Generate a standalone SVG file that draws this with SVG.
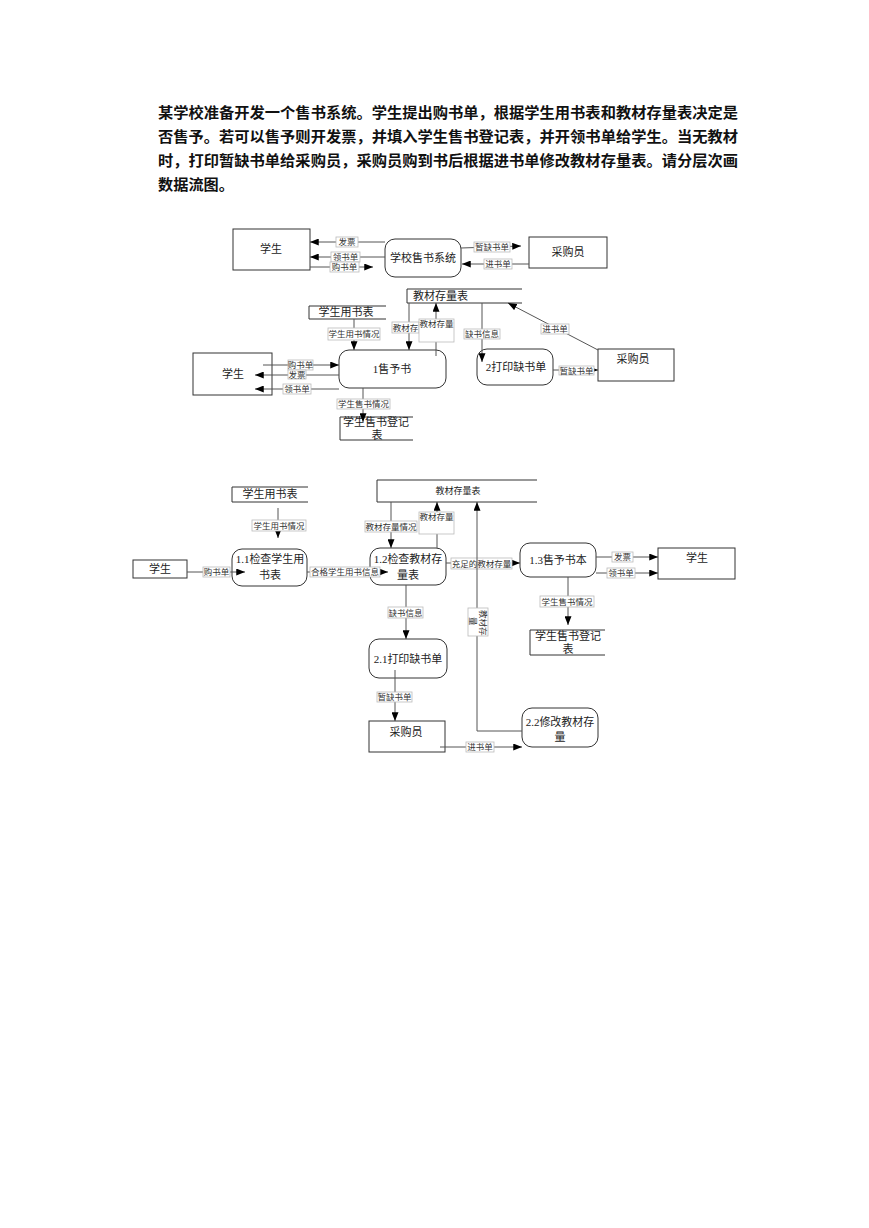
<svg xmlns="http://www.w3.org/2000/svg" width="869" height="1228" viewBox="0 0 869 1228">
<style>
.title{font-family:"Noto Sans CJK SC",sans-serif;font-weight:bold;font-size:14.5px;fill:#111}
.box{fill:#fff;stroke:#333;stroke-width:1}
.store{fill:none;stroke:#333;stroke-width:1}
.nt{font-family:"Liberation Serif","Noto Sans CJK SC",serif;font-size:11px;fill:#222;text-anchor:middle}
.st{font-family:"Liberation Serif","Noto Sans CJK SC",serif;font-size:9px;fill:#222;text-anchor:middle}
.ln{fill:none;stroke:#555;stroke-width:1}
.lb{fill:#fff;stroke:#bbb;stroke-width:0.8}
.lt{font-family:"Liberation Serif","Noto Sans CJK SC",serif;font-size:8.5px;fill:#333;text-anchor:middle}
</style>
<defs>
<marker id="ah" markerUnits="userSpaceOnUse" viewBox="0 0 10 8" refX="10" refY="4" markerWidth="9" markerHeight="7" orient="auto">
<path d="M0,0 L10,4 L0,8 z" fill="#000"/>
</marker>
</defs>
<rect width="869" height="1228" fill="#fff"/>

<g id="question">
<text class="title" x="158" y="118" textLength="580" lengthAdjust="spacingAndGlyphs">某学校准备开发一个售书系统。学生提出购书单，根据学生用书表和教材存量表决定是</text>
<text class="title" x="158" y="142" textLength="580" lengthAdjust="spacingAndGlyphs">否售予。若可以售予则开发票，并填入学生售书登记表，并开领书单给学生。当无教材</text>
<text class="title" x="158" y="166" textLength="580" lengthAdjust="spacingAndGlyphs">时，打印暂缺书单给采购员，采购员购到书后根据进书单修改教材存量表。请分层次画</text>
<text class="title" x="158" y="190" textLength="76" lengthAdjust="spacingAndGlyphs">数据流图。</text>
</g>

<!-- Diagram 1 -->
<g id="d1-student"><rect class="box" x="233" y="229" width="77" height="41"/><text class="nt" x="271" y="253">学生</text></g>
<g id="d1-system"><rect class="box" x="385" y="239" width="76" height="38" rx="10"/><text class="nt" x="423" y="262">学校售书系统</text></g>
<g id="d1-buyer"><rect class="box" x="529" y="237" width="78" height="31"/><text class="nt" x="568" y="256">采购员</text></g>

<!-- Diagram 2 -->
<g id="d2-usebook"><path class="store" d="M386,306 H309 V319 H386"/><text class="nt" x="346" y="316">学生用书表</text></g>
<g id="d2-p1"><rect class="box" x="339" y="350" width="107" height="38" rx="10"/><text class="nt" x="392" y="373">1售予书</text></g>
<g id="d2-student"><rect class="box" x="193" y="353" width="79" height="42"/><text class="nt" x="233" y="378">学生</text></g>
<g id="d2-salereg"><path class="store" d="M413,417 H340 V440 H413"/><text class="nt" x="376" y="426">学生售书登记</text><text class="nt" x="377" y="439">表</text></g>
<g id="d2-stock"><path class="store" d="M522,289 H407 V303 H522"/><text class="nt" x="413" y="300" style="text-anchor:start">教材存量表</text></g>
<g id="d2-p2"><rect class="box" x="477" y="349" width="76" height="36" rx="10"/><text class="nt" x="516" y="371">2打印缺书单</text></g>
<g id="d2-buyer"><rect class="box" x="598" y="349" width="76" height="32"/><text class="nt" x="633" y="363">采购员</text></g>

<!-- Diagram 3 -->
<g id="d3-usebook"><path class="store" d="M308,487 H232 V502 H308"/><text class="nt" x="270" y="498">学生用书表</text></g>
<g id="d3-p11"><rect class="box" x="232" y="549" width="75" height="37" rx="10"/><text class="nt" x="270" y="563">1.1检查学生用</text><text class="nt" x="270" y="579">书表</text></g>
<g id="d3-student1"><rect class="box" x="133" y="560" width="54" height="18"/><text class="nt" x="160" y="573">学生</text></g>
<g id="d3-p12"><rect class="box" x="370" y="548" width="76" height="37" rx="10"/><text class="nt" x="408" y="563">1.2检查教材存</text><text class="nt" x="408" y="579">量表</text></g>
<g id="d3-stock"><path class="store" d="M537,480 H377 V502 H537"/><text class="st" x="458" y="494">教材存量表</text></g>
<g id="d3-p13"><rect class="box" x="520" y="543" width="76" height="34" rx="10"/><text class="nt" x="558" y="564">1.3售予书本</text></g>
<g id="d3-student2"><rect class="box" x="658" y="548" width="77" height="31"/><text class="nt" x="697" y="562">学生</text></g>
<g id="d3-salereg"><path class="store" d="M605,630 H530 V655 H605"/><text class="nt" x="568" y="640">学生售书登记</text><text class="nt" x="568" y="653">表</text></g>
<g id="d3-p21"><rect class="box" x="369" y="639" width="78" height="39" rx="10"/><text class="nt" x="408" y="663">2.1打印缺书单</text></g>
<g id="d3-buyer"><rect class="box" x="369" y="721" width="76" height="31"/><text class="nt" x="406" y="736">采购员</text></g>
<g id="d3-p22"><rect class="box" x="522" y="708" width="76" height="39" rx="10"/><text class="nt" x="560" y="726">2.2修改教材存</text><text class="nt" x="560" y="741">量</text></g>

<g id="connectors">
<!-- D1 -->
<line class="ln" x1="385" y1="242" x2="310" y2="242" marker-end="url(#ah)"/>
<rect class="lb" x="336" y="237" width="22" height="10"/><text class="lt" x="347" y="245">发票</text>
<line class="ln" x1="385" y1="257" x2="310" y2="257" marker-end="url(#ah)"/>
<rect class="lb" x="331" y="252" width="29" height="10"/><text class="lt" x="345.5" y="260">领书单</text>
<line class="ln" x1="310" y1="267" x2="373" y2="267" marker-end="url(#ah)"/>
<rect class="lb" x="330" y="262" width="29" height="10"/><text class="lt" x="344.5" y="270">购书单</text>
<line class="ln" x1="461" y1="248" x2="521" y2="246" marker-end="url(#ah)"/>
<rect class="lb" x="474" y="242" width="36" height="10"/><text class="lt" x="492" y="250">暂缺书单</text>
<line class="ln" x1="529" y1="264" x2="462" y2="264" marker-end="url(#ah)"/>
<rect class="lb" x="484" y="259" width="28" height="10"/><text class="lt" x="498" y="267">进书单</text>

<!-- D2 -->
<line class="ln" x1="354" y1="319" x2="354" y2="350" marker-end="url(#ah)"/>
<rect class="lb" x="328" y="328" width="52" height="12"/><text class="lt" x="354" y="337">学生用书情况</text>
<line class="ln" x1="263" y1="365" x2="339" y2="365" marker-end="url(#ah)"/>
<rect class="lb" x="288" y="360" width="25" height="10"/><text class="lt" x="300.5" y="368">购书单</text>
<line class="ln" x1="339" y1="375" x2="255" y2="375" marker-end="url(#ah)"/>
<rect class="lb" x="288" y="370" width="18" height="9"/><text class="lt" x="297" y="378">发票</text>
<line class="ln" x1="339" y1="389" x2="255" y2="389" marker-end="url(#ah)"/>
<rect class="lb" x="283" y="384" width="28" height="10"/><text class="lt" x="297" y="392">领书单</text>
<line class="ln" x1="363" y1="388" x2="363" y2="422" marker-end="url(#ah)"/>
<rect class="lb" x="337" y="399" width="53" height="10"/><text class="lt" x="363.5" y="407">学生售书情况</text>
<line class="ln" x1="409" y1="303" x2="409" y2="350" marker-end="url(#ah)"/>
<rect class="lb" x="392" y="322" width="27" height="11"/><text class="lt" x="405.5" y="331">教材存</text>
<line class="ln" x1="436" y1="356" x2="436" y2="303" marker-end="url(#ah)"/>
<rect class="lb" x="419" y="319" width="35" height="23"/><text class="lt" x="436.5" y="327">教材存量</text>
<line class="ln" x1="482" y1="303" x2="482" y2="362" marker-end="url(#ah)"/>
<rect class="lb" x="464" y="329" width="36" height="10"/><text class="lt" x="482" y="337">缺书信息</text>
<line class="ln" x1="553" y1="370" x2="598" y2="370" marker-end="url(#ah)"/>
<rect class="lb" x="559" y="366" width="35" height="9"/><text class="lt" x="576.5" y="374">暂缺书单</text>
<line class="ln" x1="598" y1="350" x2="508" y2="303" marker-end="url(#ah)"/>
<rect class="lb" x="541" y="324" width="28" height="10"/><text class="lt" x="555" y="332">进书单</text>

<!-- D3 -->
<line class="ln" x1="278" y1="508" x2="278" y2="538" marker-end="url(#ah)"/>
<rect class="lb" x="252" y="520" width="54" height="11"/><text class="lt" x="279" y="529">学生用书情况</text>
<line class="ln" x1="187" y1="572" x2="245" y2="572" marker-end="url(#ah)"/>
<rect class="lb" x="203" y="567" width="27" height="10"/><text class="lt" x="216.5" y="575">购书单</text>
<line class="ln" x1="307" y1="572" x2="388" y2="572" marker-end="url(#ah)"/>
<rect class="lb" x="310" y="567" width="70" height="10"/><text class="lt" x="345" y="575">合格学生用书信息</text>
<line class="ln" x1="391" y1="502" x2="391" y2="548" marker-end="url(#ah)"/>
<rect class="lb" x="365" y="521" width="52" height="11"/><text class="lt" x="391" y="530">教材存量情况</text>
<line class="ln" x1="437" y1="548" x2="437" y2="502" marker-end="url(#ah)"/>
<rect class="lb" x="419" y="512" width="35" height="22"/><text class="lt" x="436.5" y="520">教材存量</text>
<line class="ln" x1="446" y1="563" x2="520" y2="563" marker-end="url(#ah)"/>
<rect class="lb" x="451" y="558" width="61" height="11"/><text class="lt" x="481.5" y="567">充足的教材存量</text>
<line class="ln" x1="596" y1="557" x2="658" y2="557" marker-end="url(#ah)"/>
<rect class="lb" x="612" y="552" width="21" height="10"/><text class="lt" x="622.5" y="560">发票</text>
<line class="ln" x1="596" y1="573" x2="658" y2="573" marker-end="url(#ah)"/>
<rect class="lb" x="607" y="568" width="28" height="10"/><text class="lt" x="621" y="576">领书单</text>
<line class="ln" x1="568" y1="577" x2="568" y2="625" marker-end="url(#ah)"/>
<rect class="lb" x="540" y="596" width="54" height="11"/><text class="lt" x="567" y="605">学生售书情况</text>
<line class="ln" x1="406" y1="585" x2="406" y2="639" marker-end="url(#ah)"/>
<rect class="lb" x="388" y="607" width="35" height="11"/><text class="lt" x="405.5" y="616">缺书信息</text>
<line class="ln" x1="395" y1="670" x2="395" y2="721" marker-end="url(#ah)"/>
<rect class="lb" x="377" y="692" width="35" height="10"/><text class="lt" x="394.5" y="700">暂缺书单</text>
<line class="ln" x1="440" y1="747" x2="522" y2="747" marker-end="url(#ah)"/>
<rect class="lb" x="466" y="742" width="28" height="10"/><text class="lt" x="480" y="750">进书单</text>
<polyline class="ln" points="522,731 477,731 477,502" marker-end="url(#ah)"/>
<rect class="lb" x="468" y="608" width="20" height="28"/>
<text class="lt" transform="translate(480,610) rotate(90)" style="text-anchor:start">教材存</text>
<text class="lt" transform="translate(470,617) rotate(90)" style="text-anchor:start">量</text>
</g>
</svg>
